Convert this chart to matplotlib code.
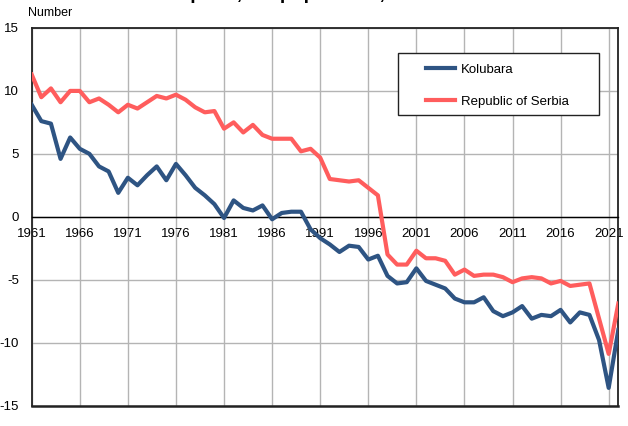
import matplotlib
matplotlib.use("Agg")
import matplotlib.pyplot as plt
from matplotlib.patches import Rectangle

plt.rcParams["font.family"] = ["Liberation Sans", "DejaVu Sans"]
plt.rcParams["axes.unicode_minus"] = False

years = list(range(1961, 2023))

kolubara = [
    8.9, 7.6, 7.4, 4.6, 6.3, 5.4, 5.0, 4.0, 3.6, 1.9,
    3.1, 2.5, 3.3, 4.0, 2.9, 4.2, 3.3, 2.3, 1.7, 1.0,
    -0.1, 1.3, 0.7, 0.5, 0.9, -0.2, 0.3, 0.4, 0.4, -1.0,
    -1.7, -2.2, -2.8, -2.3, -2.4, -3.4, -3.1, -4.7, -5.3, -5.2,
    -4.1, -5.1, -5.4, -5.7, -6.5, -6.8, -6.8, -6.4, -7.5, -7.9,
    -7.6, -7.1, -8.1, -7.8, -7.9, -7.4, -8.4, -7.6, -7.8, -9.8,
    -13.6, -9.0,
]

serbia = [
    11.3, 9.5, 10.2, 9.1, 10.0, 10.0, 9.1, 9.4, 8.9, 8.3,
    8.9, 8.6, 9.1, 9.6, 9.4, 9.7, 9.3, 8.7, 8.3, 8.4,
    7.0, 7.5, 6.7, 7.3, 6.5, 6.2, 6.2, 6.2, 5.2, 5.4,
    4.7, 3.0, 2.9, 2.8, 2.9, 2.3, 1.7, -3.0, -3.8, -3.8,
    -2.7, -3.3, -3.3, -3.5, -4.6, -4.2, -4.7, -4.6, -4.6, -4.8,
    -5.2, -4.9, -4.8, -4.9, -5.3, -5.1, -5.5, -5.4, -5.3, -8.1,
    -10.9, -6.9,
]

xticks = list(range(1961, 2022, 5))
yticks = [-15, -10, -5, 0, 5, 10, 15]

BLUE = "#2e5483"
RED = "#ff5d5d"
FS = 9.5

fig = plt.figure(figsize=(6.28, 4.26), dpi=100)
W, H = 628, 426
ax = fig.add_axes([31.7 / W, 1 - 405.5 / H, (618.3 - 31.7) / W, (405.5 - 28) / H])

ax.plot(years, kolubara, color=BLUE, lw=3, label="Kolubara", zorder=3)
ax.plot(years, serbia, color=RED, lw=3, label="Republic of Serbia", zorder=3)

ax.set_xlim(1961, 2022)
ax.set_ylim(-15, 15)
ax.set_xticks(xticks)
ax.set_yticks(yticks)
ax.tick_params(axis="both", length=0, labelsize=FS)
ax.tick_params(axis="x", pad=8)
ax.tick_params(axis="y", pad=9)
ax.grid(True, color="#b4b4b4", lw=1, zorder=0)
ax.set_axisbelow(True)

ax.spines["bottom"].set_position(("data", 0))
ax.spines["bottom"].set_linewidth(1)
for side in ["left", "top", "right"]:
    ax.spines[side].set_linewidth(1.3)
    ax.spines[side].set_color("#222222")
ax.axhline(-15, color="#222222", lw=1.8, clip_on=False, zorder=4)

fig.text(28 / W, 1 - 13 / H, "Number", fontsize=9, va="center", ha="left")

# title, cut off by the top edge as in the source picture
fig.text(33 / W, 1 + 1 / H, "Natural increase per 1,000 population, 1961\u20132022",
         fontsize=14, fontweight="bold", ha="left", va="baseline")

# legend box
ax.add_patch(Rectangle((398 / W, 1 - 114.5 / H), 201 / W, 62 / H,
                       transform=fig.transFigure, facecolor="white",
                       edgecolor="#222222", lw=1, zorder=5, clip_on=False))
leg = fig.legend(loc="upper left", bbox_to_anchor=(426 / W, 1 - 63.5 / H),
                 frameon=False, fontsize=FS, borderpad=0, borderaxespad=0,
                 labelspacing=1.5, handlelength=2.2, handletextpad=0.45)
leg.set_zorder(6)

fig.savefig("out.png", dpi=100)
